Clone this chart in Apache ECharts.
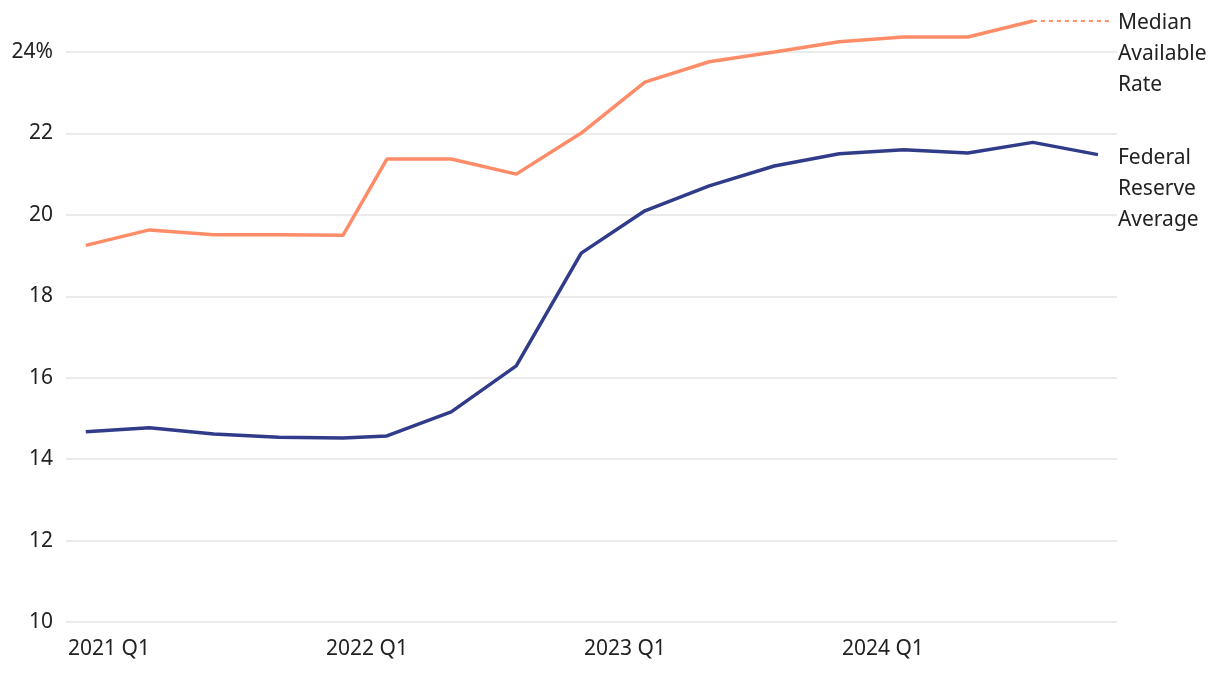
<!DOCTYPE html>
<html>
<head>
<meta charset="utf-8">
<script src="https://cdn.jsdelivr.net/npm/echarts@6/dist/echarts.min.js"></script>
<style>html,body{margin:0;padding:0;background:#fff}#c{width:1220px;height:674px}</style>
</head>
<body>
<div id="c"></div>
<script>
const dates = ['2021-01-29','2021-04-29','2021-07-29','2021-10-29','2022-01-28','2022-03-31','2022-06-30','2022-09-30','2022-12-31','2023-03-31','2023-06-30','2023-09-30','2023-12-31','2024-03-31','2024-06-30','2024-09-30','2024-12-31'];
const medianRate = [19.25,19.63,19.51,19.51,19.5,21.37,21.37,21.0,22.01,23.26,23.76,24.0,24.25,24.37,24.37,24.76,null];
const fedAverage = [14.67,14.77,14.62,14.54,14.52,14.57,15.16,16.29,19.06,20.1,20.71,21.2,21.5,21.6,21.52,21.78,21.48];
const yearTicks = ['2021-01-01','2022-01-01','2023-01-01','2024-01-01'];
const seriesNames = ['Median\nAvailable\nRate','Federal\nReserve\nAverage'];
const extensionEnd = '2025-01-17';
const axisStart = '2021-01-01';
const axisEnd = '2025-01-27';

const FONT = 'Noto Sans';
const TXT = '#222222';
const ORANGE = '#FF8C69';
const BLUE = '#303C8A';
const FS = 21;

const ts = d => Date.parse(d + 'T00:00:00Z');
const lastMedianIdx = 15;
const chart = echarts.init(document.getElementById('c'));
chart.setOption({
  animation: false,
  grid: {left: 66, right: 103, top: 52, bottom: 52, containLabel: false},
  xAxis: {
    type: 'value',
    min: ts(axisStart),
    max: ts(axisEnd),
    axisLine: {show: false},
    axisTick: {show: false},
    splitLine: {show: false},
    axisLabel: {
      customValues: yearTicks.map(ts),
      formatter: v => new Date(v).getUTCFullYear() + ' Q1',
      align: 'left',
      margin: 17,
      padding: [0, 0, 0, 2],
      fontFamily: FONT, fontSize: FS, color: TXT
    }
  },
  yAxis: {
    type: 'value',
    min: 10, max: 24, interval: 2,
    axisLine: {show: false},
    axisTick: {show: false},
    splitLine: {lineStyle: {color: '#e4e4e4', width: 1.5}},
    axisLabel: {
      formatter: v => v === 24 ? '24%' : String(v),
      margin: 13,
      fontFamily: FONT, fontSize: FS, color: TXT
    }
  },
  series: [
    {
      name: 'median', type: 'line', clip: false, symbol: 'none',
      lineStyle: {color: ORANGE, width: 3.5},
      data: dates.map((d, i) => [ts(d), medianRate[i]]).filter(p => p[1] !== null)
    },
    {
      name: 'medianExt', type: 'line', clip: false, symbol: 'none',
      lineStyle: {color: ORANGE, width: 2, type: [4, 4]},
      data: [[ts(dates[lastMedianIdx]), medianRate[lastMedianIdx]], [ts(extensionEnd), medianRate[lastMedianIdx]]],
      endLabel: {
        show: true, formatter: seriesNames[0], distance: 8,
        verticalAlign: 'top', offset: [0, -14], lineHeight: 31,
        fontFamily: FONT, fontSize: FS, color: TXT
      }
    },
    {
      name: 'fed', type: 'line', clip: false, symbol: 'none',
      lineStyle: {color: BLUE, width: 3.5},
      data: dates.map((d, i) => [ts(d), fedAverage[i]]),
      endLabel: {
        show: true, formatter: seriesNames[1], distance: 20,
        verticalAlign: 'top', offset: [0, -12], lineHeight: 31,
        fontFamily: FONT, fontSize: FS, color: TXT
      }
    }
  ]
});
</script>
</body>
</html>
